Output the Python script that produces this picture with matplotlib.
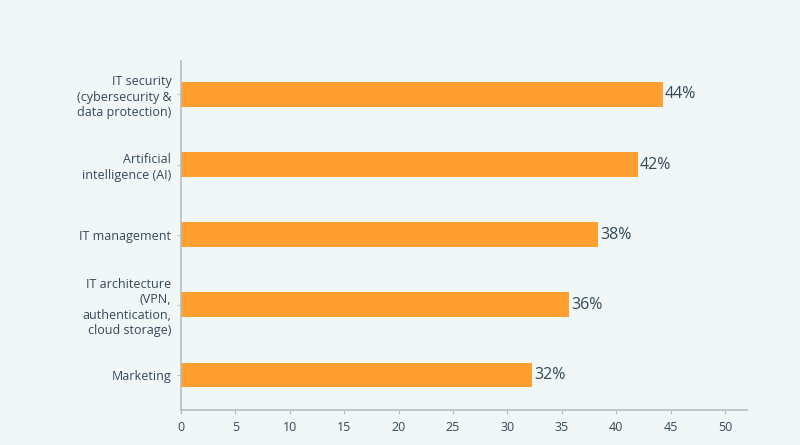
import numpy as np
import matplotlib.pyplot as plt

categories = ['Marketing',
              'IT architecture\n(VPN,\nauthentication,\ncloud storage)',
              'IT management',
              'Artificial\nintelligence (AI)',
              'IT security\n(cybersecurity &\ndata protection)']
values = [32.3, 35.7, 38.3, 42.0, 44.3]
value_labels = ['32%', '36%', '38%', '42%', '44%']
xticks = [0, 5, 10, 15, 20, 25, 30, 35, 40, 45, 50]

bg = '#f1f6f7'
bar_color = '#ff9f2f'
text_color = '#34495a'
spine_color = '#b8bfc3'

plt.rcParams['font.family'] = ['Open Sans', 'DejaVu Sans']

fig = plt.figure(figsize=(8, 4.45), dpi=100, facecolor=bg)
ax = fig.add_axes([0.22625, 0.0787, 0.7071, 0.7849], facecolor=bg)

y = np.arange(len(categories))
ax.barh(y, values, height=0.35, color=bar_color)

for yi, v, lab in zip(y, values, value_labels):
    ax.text(v + 0.2, yi, lab, va='center', ha='left', fontsize=11.5, color=text_color)

ax.set_xlim(0, 52)
ax.set_ylim(-0.5, 4.48)
ax.set_xticks(xticks)
ax.set_yticks(y)
ax.set_yticklabels(categories, fontsize=9, color=text_color, linespacing=1.25)
ax.tick_params(axis='x', labelsize=9, colors=text_color, color=spine_color, length=3, pad=5)
ax.tick_params(axis='y', color=spine_color, length=3, pad=4)

for s in ['top', 'right']:
    ax.spines[s].set_visible(False)
for s in ['left', 'bottom']:
    ax.spines[s].set_color(spine_color)
    ax.spines[s].set_linewidth(1.2)

fig.savefig('out.png', dpi=100, facecolor=bg)
